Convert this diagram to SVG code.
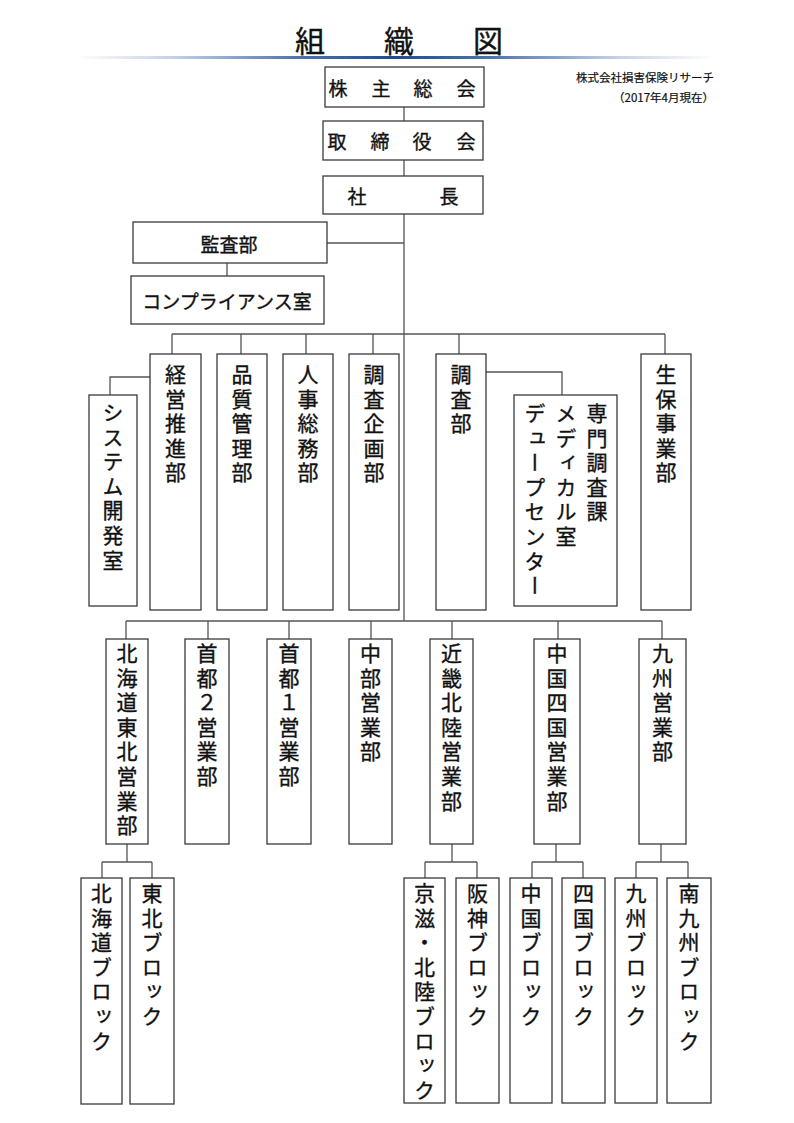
<svg xmlns="http://www.w3.org/2000/svg" width="794" height="1123" viewBox="0 0 794 1123">
<style>
.box{fill:#ffffff;stroke:#3a3a3a;stroke-width:1.3}
.ln{fill:none;stroke:#555555;stroke-width:1.3}
.t{font-family:"Noto Sans CJK JP","Noto Sans CJK SC",sans-serif;fill:#111111;stroke:#111111;stroke-width:0.35}
.h{font-size:19px;text-anchor:middle;dominant-baseline:central}
.v{writing-mode:vertical-rl;font-size:21px;letter-spacing:3.6px}
.small{font-size:11.5px;text-anchor:end;dominant-baseline:central;stroke-width:0.2}
</style>
<defs>
<linearGradient id="rule" x1="0" y1="0" x2="1" y2="0">
<stop offset="0" stop-color="#ffffff"/>
<stop offset="0.15" stop-color="#c5d3e8"/>
<stop offset="0.35" stop-color="#4a74b0"/>
<stop offset="0.5" stop-color="#1f4c8f"/>
<stop offset="0.65" stop-color="#4a74b0"/>
<stop offset="0.85" stop-color="#c5d3e8"/>
<stop offset="1" stop-color="#ffffff"/>
</linearGradient>
</defs>
<rect width="794" height="1123" fill="#ffffff"/>
<g id="title">
<text class="t" x="310 399 488" y="39" font-size="30" text-anchor="middle" dominant-baseline="central" stroke-width="0.6">組織図</text>
<rect x="75" y="56" width="640" height="3" fill="url(#rule)"/>
<text class="t small" x="714" y="77">株式会社損害保険リサーチ</text>
<text class="t small" x="714" y="97">（2017年4月現在）</text>
</g>
<g id="connectors">
<path class="ln" d="M404 107V121M404 160V176M404 214V621M327 243H404M227 263V276"/>
<path class="ln" d="M172 334H665M172 334V354M241 334V354M306 334V354M373 334V354M459 334V354M665 334V354"/>
<path class="ln" d="M150 377H110V395M486 372H562V395"/>
<path class="ln" d="M126 621H662M126 621V639M208 621V639M289 621V639M371 621V639M452 621V639M558 621V639M662 621V639"/>
<path class="ln" d="M127 844V862M102 862H152M102 862V878M152 862V878"/>
<path class="ln" d="M452 844V862M425 862H477M425 862V878M477 862V878"/>
<path class="ln" d="M556 844V862M532 862H583M532 862V878M583 862V878"/>
<path class="ln" d="M661 844V862M636 862H688M636 862V878M688 862V878"/>
</g>
<g id="kabunushi"><rect class="box" x="325" y="67" width="159" height="40"/><text class="t h" x="338 381 423 466" y="87">株主総会</text></g>
<g id="torishimariyaku"><rect class="box" x="323" y="121" width="160" height="39"/><text class="t h" x="337 380 422 466" y="140.5">取締役会</text></g>
<g id="shacho"><rect class="box" x="323" y="176" width="160" height="38"/><text class="t h" x="357 449" y="195">社長</text></g>
<g id="kansa"><rect class="box" x="133" y="222" width="194" height="41"/><text class="t h" x="229" y="243" font-size="20">監査部</text></g>
<g id="compliance"><rect class="box" x="131" y="276" width="193" height="48"/><text class="t h" x="227" y="300">コンプライアンス室</text></g>
<g id="system"><rect class="box" x="89" y="395" width="48" height="211"/><text class="t v" x="113" y="401.5">システム開発室</text></g>
<g id="keiei"><rect class="box" x="150" y="354" width="51" height="256"/><text class="t v" x="175.5" y="363.5">経営推進部</text></g>
<g id="hinshitsu"><rect class="box" x="217" y="354" width="50" height="256"/><text class="t v" x="242" y="363.5">品質管理部</text></g>
<g id="jinji"><rect class="box" x="283" y="354" width="50" height="256"/><text class="t v" x="308" y="363.5">人事総務部</text></g>
<g id="chosakikaku"><rect class="box" x="349" y="354" width="50" height="256"/><text class="t v" x="374" y="363.5">調査企画部</text></g>
<g id="chosa"><rect class="box" x="436" y="354" width="50" height="256"/><text class="t v" x="461" y="363.5">調査部</text></g>
<g id="senmon"><rect class="box" x="514" y="395" width="103" height="211"/><text class="t v" x="597" y="402.5">専門調査課</text><text class="t v" x="566" y="402.5">メディカル室</text><text class="t v" x="535" y="402.5">デュープセンター</text></g>
<g id="seiho"><rect class="box" x="641" y="354" width="50" height="256"/><text class="t v" x="666" y="363.5">生保事業部</text></g>
<g id="hokkaidotohoku"><rect class="box" x="106" y="639" width="42" height="205"/><text class="t v" x="127" y="642.5">北海道東北営業部</text></g>
<g id="shuto2"><rect class="box" x="185" y="639" width="44" height="205"/><text class="t v" x="207" y="642.5">首都２営業部</text></g>
<g id="shuto1"><rect class="box" x="267" y="639" width="44" height="205"/><text class="t v" x="289" y="642.5">首都１営業部</text></g>
<g id="chubu"><rect class="box" x="349" y="639" width="43" height="205"/><text class="t v" x="370.5" y="642.5">中部営業部</text></g>
<g id="kinki"><rect class="box" x="430" y="639" width="43" height="205"/><text class="t v" x="451.5" y="642.5">近畿北陸営業部</text></g>
<g id="chugokushikoku"><rect class="box" x="534" y="639" width="46" height="205"/><text class="t v" x="557" y="642.5">中国四国営業部</text></g>
<g id="kyushu"><rect class="box" x="639" y="639" width="47" height="205"/><text class="t v" x="662.5" y="642.5">九州営業部</text></g>
<g id="hokkaidoblock"><rect class="box" x="81" y="878" width="41" height="226"/><text class="t v" x="101.5" y="882.5">北海道ブロック</text></g>
<g id="tohokublock"><rect class="box" x="130" y="878" width="44" height="226"/><text class="t v" x="152" y="882.5">東北ブロック</text></g>
<g id="keijihokurikublock"><rect class="box" x="404" y="878" width="41" height="225"/><text class="t v" x="424.5" y="882.5">京滋・北陸ブロック</text></g>
<g id="hanshinblock"><rect class="box" x="456" y="878" width="43" height="225"/><text class="t v" x="477.5" y="882.5">阪神ブロック</text></g>
<g id="chugokublock"><rect class="box" x="510" y="878" width="42" height="225"/><text class="t v" x="531" y="882.5">中国ブロック</text></g>
<g id="shikokublock"><rect class="box" x="562" y="878" width="43" height="225"/><text class="t v" x="583.5" y="882.5">四国ブロック</text></g>
<g id="kyushublock"><rect class="box" x="615" y="878" width="42" height="225"/><text class="t v" x="636" y="882.5">九州ブロック</text></g>
<g id="minamikyushublock"><rect class="box" x="667" y="878" width="44" height="225"/><text class="t v" x="689" y="882.5">南九州ブロック</text></g>
</svg>
